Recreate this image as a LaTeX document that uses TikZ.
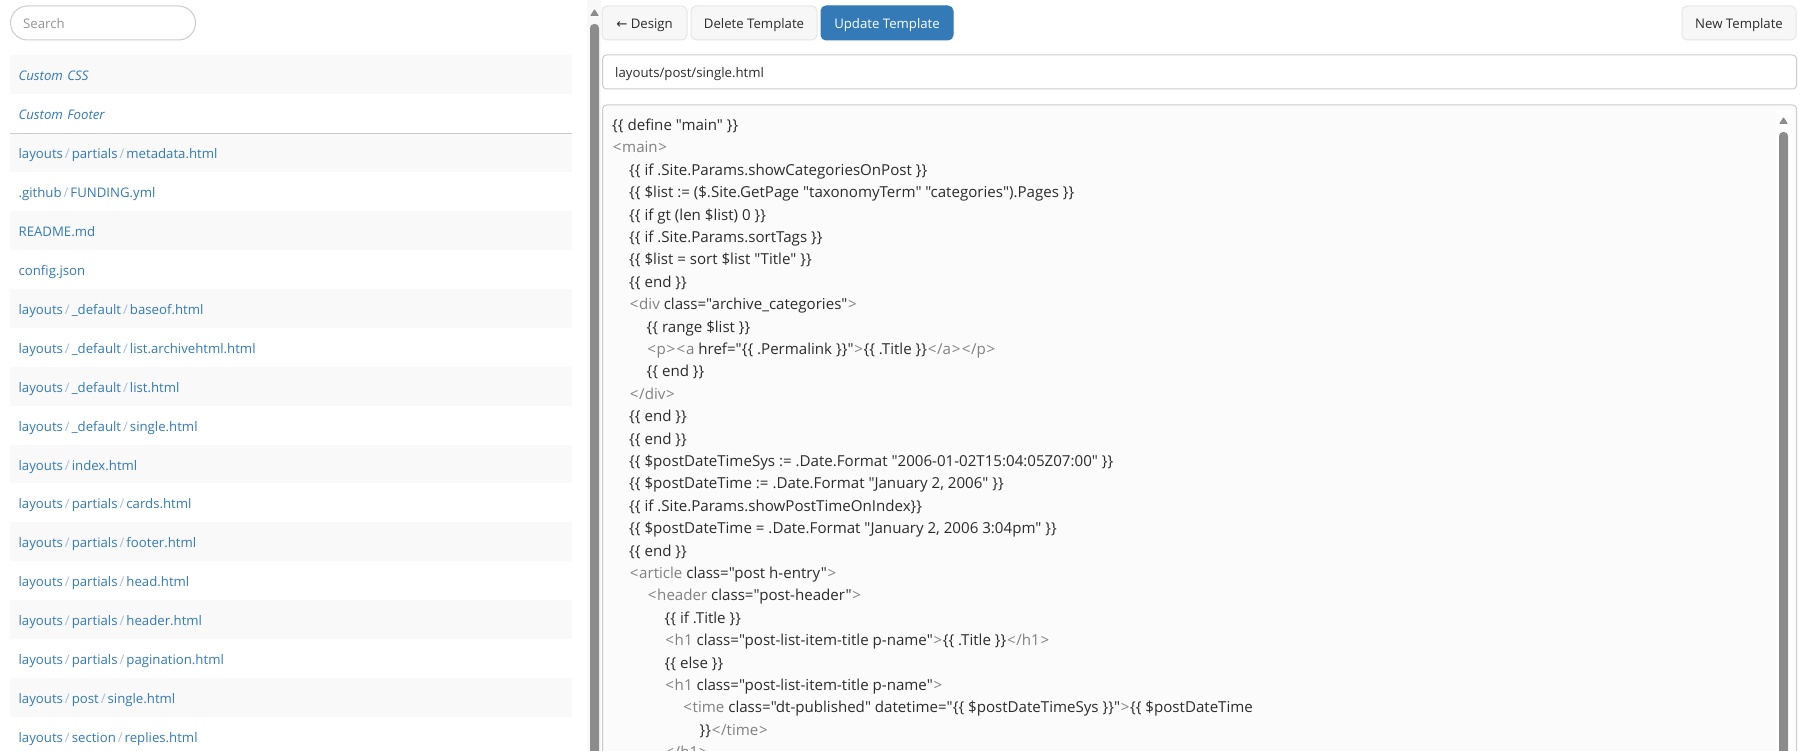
\documentclass[tikz,border=0pt]{standalone}
\usepackage{fontspec}
\newfontfamily\uifont{Open Sans}
\newfontfamily\arrowfont{DejaVu Sans}
\definecolor{linkblue}{HTML}{337AB7}
\definecolor{slashblue}{HTML}{A3BFD9}
\definecolor{rowgray}{HTML}{F9F9F9}
\definecolor{boxline}{HTML}{CCCCCC}
\definecolor{btnfill}{HTML}{F7F7F7}
\definecolor{btnline}{HTML}{E6E6E6}
\definecolor{barfill}{HTML}{8C8C8C}
\definecolor{trackfill}{HTML}{F8F8F8}
\definecolor{codefill}{HTML}{FBFBFB}
\definecolor{codetext}{HTML}{2B2B2B}
\definecolor{tagtext}{HTML}{808080}
\newcommand{\sep}{\kern2pt{\color{slashblue}/}\kern2pt}
\newcommand{\tg}[1]{{\color{tagtext}#1}}
\newcommand{\la}{\kern0.7pt<\kern0.7pt}
\newcommand{\ra}{\kern0.7pt>\kern0.7pt}
\newcommand{\lb}{\{\{}
\newcommand{\rb}{\}\}}
\begin{document}
\begin{tikzpicture}
[every node/.style={inner sep=0pt, font=\uifont\fontsize{13.2pt}{16pt}\selectfont},
rowbase/.style={anchor=west, minimum height=38.95pt, inner xsep=8.4pt, text width=545.2pt, text height=15pt, text depth=3pt, text=linkblue},
rowodd/.style={rowbase, fill=rowgray},
roweven/.style={rowbase, fill=white},
btn/.style={draw=btnline, fill=btnfill, line width=1pt, rounded corners=5pt, minimum height=34pt, text=codetext, text height=15pt, text depth=3pt},
codeline/.style={anchor=west, text=codetext, text height=15pt, text depth=3pt, font=\uifont\fontsize{15.1pt}{18pt}\selectfont},
bar/.style={fill=barfill, rounded corners=4pt},
tip/.style={fill=barfill, rounded corners=0.8pt}]
\clip (0pt, 0pt) rectangle (1801pt, -751pt);
\fill [white] (0pt, 0pt) rectangle (1801pt, -751pt);
\node (search) [draw=boxline, line width=1pt, rounded corners=17pt, minimum width=185pt, minimum height=34pt, anchor=west] at (10pt, -23pt) {};
\node (searchtext) [anchor=west, text=tagtext!85, text height=15pt, text depth=3pt] at (23pt, -23pt) {Search};
\node (r1) [rowodd] at (10pt, -74.5pt) {\textit{Custom CSS}};
\node (r2) [roweven] at (10pt, -113.4pt) {\textit{Custom Footer}};
\node (r3) [rowodd] at (10pt, -152.4pt) {layouts\sep partials\sep metadata.html};
\node (r4) [roweven] at (10pt, -191.3pt) {.github\sep FUNDING.yml};
\node (r5) [rowodd] at (10pt, -230.3pt) {README.md};
\node (r6) [roweven] at (10pt, -269.2pt) {config.json};
\node (r7) [rowodd] at (10pt, -308.2pt) {layouts\sep \_default\sep baseof.html};
\node (r8) [roweven] at (10pt, -347.1pt) {layouts\sep \_default\sep list.archivehtml.html};
\node (r9) [rowodd] at (10pt, -386.1pt) {layouts\sep \_default\sep list.html};
\node (r10) [roweven] at (10pt, -425pt) {layouts\sep \_default\sep single.html};
\node (r11) [rowodd] at (10pt, -464pt) {layouts\sep index.html};
\node (r12) [roweven] at (10pt, -502.9pt) {layouts\sep partials\sep cards.html};
\node (r13) [rowodd] at (10pt, -541.9pt) {layouts\sep partials\sep footer.html};
\node (r14) [roweven] at (10pt, -580.8pt) {layouts\sep partials\sep head.html};
\node (r15) [rowodd] at (10pt, -619.8pt) {layouts\sep partials\sep header.html};
\node (r16) [roweven] at (10pt, -658.7pt) {layouts\sep partials\sep pagination.html};
\node (r17) [rowodd] at (10pt, -697.7pt) {layouts\sep post\sep single.html};
\node (r18) [roweven] at (10pt, -736.6pt) {layouts\sep section\sep replies.html};
\draw [line width=1pt, color=boxline] (r2.south west) -- (r2.south east);
\fill [trackfill] (587pt, 0pt) rectangle (601pt, -751pt);
\fill [tip] (590pt, -16pt) -- (594.5pt, -9pt) -- (599pt, -16pt) -- cycle;
\fill [bar] (590pt, -24pt) rectangle (599pt, -770pt);
\node (design) [btn, minimum width=85pt] at (644.5pt, -23pt) {{\arrowfont ←} Design};
\node (delete) [btn, minimum width=126pt] at (754pt, -23pt) {Delete Template};
\node (update) [btn, minimum width=132pt, fill=linkblue, draw=linkblue, text=white] at (887pt, -23pt) {Update Template};
\node (new) [btn, minimum width=114pt] at (1739pt, -23pt) {New Template};
\node (path) [draw=boxline, line width=1pt, rounded corners=4pt, minimum width=1194pt, minimum height=34pt, anchor=west] at (602pt, -72pt) {};
\node (pathtext) [anchor=west, text=codetext, text height=15pt, text depth=3pt] at (615pt, -72pt) {layouts/post/single.html};
\node (code) [draw=boxline, fill=codefill, line width=1pt, rounded corners=4pt, minimum width=1194pt, minimum height=700pt, anchor=north west] at (602pt, -104.5pt) {};
\fill [white] (1776pt, -110pt) rectangle (1791pt, -751pt);
\fill [tip] (1779pt, -124pt) -- (1783.5pt, -117pt) -- (1788pt, -124pt) -- cycle;
\fill [bar] (1779pt, -132pt) rectangle (1788pt, -770pt);
\node (c0) [codeline] at (612pt, -124.5pt) {\lb{} define "main" \rb};
\node (c1) [codeline] at (612pt, -146.9pt) {\tg{\la main\ra}};
\node (c2) [codeline] at (629pt, -169.3pt) {\lb{} if .Site.Params.showCategoriesOnPost \rb};
\node (c3) [codeline] at (629pt, -191.7pt) {\lb{} \$list := (\$.Site.GetPage "taxonomyTerm" "categories").Pages \rb};
\node (c4) [codeline] at (629pt, -214.1pt) {\lb{} if gt (len \$list) 0 \rb};
\node (c5) [codeline] at (629pt, -236.5pt) {\lb{} if .Site.Params.sortTags \rb};
\node (c6) [codeline] at (629pt, -258.9pt) {\lb{} \$list = sort \$list "Title" \rb};
\node (c7) [codeline] at (629pt, -281.3pt) {\lb{} end \rb};
\node (c8) [codeline] at (629pt, -303.7pt) {\tg{\la div} class="archive\_categories"\tg{\ra}};
\node (c9) [codeline] at (646.5pt, -326.1pt) {\lb{} range \$list \rb};
\node (c10) [codeline] at (646.5pt, -348.5pt) {\tg{\la p\ra\la a} href="\lb{} .Permalink \rb"\tg{\ra}\lb{} .Title \rb\tg{\la/a\ra\la/p\ra}};
\node (c11) [codeline] at (646.5pt, -370.9pt) {\lb{} end \rb};
\node (c12) [codeline] at (629pt, -393.3pt) {\tg{\la/div\ra}};
\node (c13) [codeline] at (629pt, -415.7pt) {\lb{} end \rb};
\node (c14) [codeline] at (629pt, -438.1pt) {\lb{} end \rb};
\node (c15) [codeline] at (629pt, -460.5pt) {\lb{} \$postDateTimeSys := .Date.Format "2006-01-02T15:04:05Z07:00" \rb};
\node (c16) [codeline] at (629pt, -482.9pt) {\lb{} \$postDateTime := .Date.Format "January 2, 2006" \rb};
\node (c17) [codeline] at (629pt, -505.3pt) {\lb{} if .Site.Params.showPostTimeOnIndex\rb};
\node (c18) [codeline] at (629pt, -527.7pt) {\lb{} \$postDateTime = .Date.Format "January 2, 2006 3:04pm" \rb};
\node (c19) [codeline] at (629pt, -550.1pt) {\lb{} end \rb};
\node (c20) [codeline] at (629pt, -572.5pt) {\tg{\la article} class="post h-entry"\tg{\ra}};
\node (c21) [codeline] at (647pt, -594.9pt) {\tg{\la header} class="post-header"\tg{\ra}};
\node (c22) [codeline] at (664.5pt, -617.3pt) {\lb{} if .Title \rb};
\node (c23) [codeline] at (664.5pt, -639.7pt) {\tg{\la h1} class="post-list-item-title p-name"\tg{\ra}\lb{} .Title \rb\tg{\la/h1\ra}};
\node (c24) [codeline] at (664.5pt, -662.1pt) {\lb{} else \rb};
\node (c25) [codeline] at (664.5pt, -684.5pt) {\tg{\la h1} class="post-list-item-title p-name"\tg{\ra}};
\node (c26) [codeline] at (682.5pt, -706.9pt) {\tg{\la time} class="dt-published" datetime="\lb{} \$postDateTimeSys \rb"\tg{\ra}\lb{} \$postDateTime};
\node (c27) [codeline] at (699.5pt, -729.3pt) {\rb\tg{\la/time\ra}};
\node (c28) [codeline] at (664.5pt, -751.7pt) {\tg{\la/h1\ra}};
\end{tikzpicture}
\end{document}
